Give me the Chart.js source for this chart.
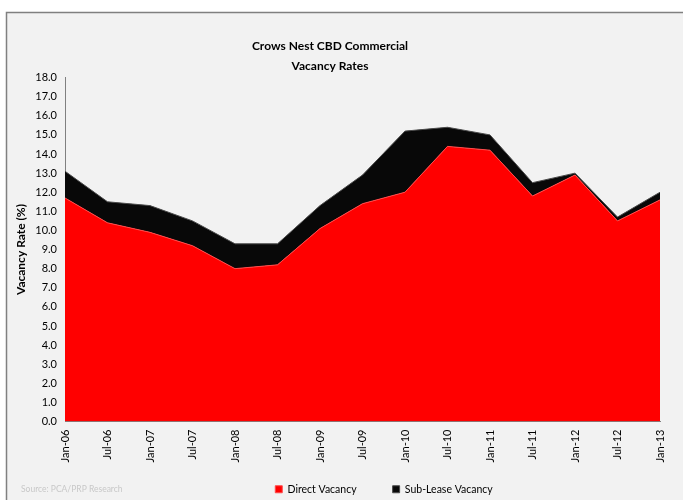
<!DOCTYPE html>
<html>
<head>
<meta charset="utf-8">
<script src="https://cdn.jsdelivr.net/npm/chart.js@4"></script>
<style>
  html, body { margin: 0; padding: 0; background: #fff; }
  #wrap { position: relative; width: 683px; height: 500px; }
</style>
</head>
<body>
<div id="wrap"><canvas id="myChart" width="683" height="500"></canvas></div>
<script>
const periods = ['Jan-06','Jul-06','Jan-07','Jul-07','Jan-08','Jul-08','Jan-09','Jul-09',
                 'Jan-10','Jul-10','Jan-11','Jul-11','Jan-12','Jul-12','Jan-13'];
const directVacancy   = [11.7, 10.4, 9.9, 9.2, 8.0, 8.2, 10.1, 11.4, 12.0, 14.4, 14.2, 11.8, 12.9, 10.5, 11.6];
const subLeaseVacancy = [1.4, 1.1, 1.4, 1.3, 1.3, 1.1, 1.2, 1.5, 3.2, 1.0, 0.8, 0.7, 0.1, 0.2, 0.4];
const titleLines = ['Crows Nest CBD Commercial', 'Vacancy Rates'];
const sourceNote = 'Source: PCA/PRP Research';

const FONT = 'Lato, "Open Sans", sans-serif';
const LEGEND_PAD = 36;

// panel background + border + source note, and legend nudged into place
const panel = {
  id: 'panel',
  afterLayout(chart) {
    const lg = chart.legend;
    const dy = 448 - lg.top;
    const dx = 54;
    lg.top += dy; lg.bottom += dy;
    lg.left += dx; lg.right += dx;
  },
  beforeDraw(chart) {
    const c = chart.ctx;
    c.save();
    c.fillStyle = '#fff';
    c.fillRect(0, 0, chart.width, chart.height);
    c.fillStyle = '#f2f2f2';
    c.fillRect(6, 12, chart.width - 6, chart.height - 12);
    c.strokeStyle = '#808080';
    c.lineWidth = 1.5;
    c.beginPath();
    c.moveTo(6.5, chart.height);
    c.lineTo(6.5, 12.5);
    c.lineTo(chart.width, 12.5);
    c.stroke();
    c.restore();
  },
  afterDraw(chart) {
    const c = chart.ctx;
    c.save();
    c.fillStyle = '#c8c8c8';
    c.font = '8.5px ' + FONT;
    c.textBaseline = 'middle';
    c.fillText(sourceNote, 21, 489);
    c.restore();
  }
};

const setup = () => {
  const ctxt = document.getElementById('myChart').getContext('2d');
  new Chart(ctxt, {
    type: 'line',
    data: {
      labels: periods,
      datasets: [{
        label: 'Direct Vacancy',
        data: directVacancy,
        backgroundColor: '#ff0000',
        borderColor: '#ff4a4a',
        borderWidth: 1,
        fill: 'origin',
        pointRadius: 0,
        tension: 0
      }, {
        label: 'Sub-Lease Vacancy',
        data: subLeaseVacancy,
        backgroundColor: '#080808',
        borderColor: '#4a4a4a',
        borderWidth: 1,
        fill: '-1',
        pointRadius: 0,
        tension: 0
      }]
    },
    options: {
      responsive: false,
      animation: false,
      layout: { padding: { left: 0, right: 23, top: 0, bottom: -23 } },
      plugins: {
        title: {
          display: true,
          text: titleLines,
          color: '#000',
          font: { family: FONT, size: 12, weight: 'bold', lineHeight: 1.65 },
          padding: { top: 36, bottom: 2 }
        },
        legend: {
          position: 'bottom',
          labels: {
            color: '#000',
            font: { family: FONT, size: 10.5 },
            boxWidth: 7,
            boxHeight: 7,
            padding: LEGEND_PAD
          }
        },
        tooltip: { enabled: false }
      },
      scales: {
        x: {
          offset: false,
          afterFit: (s) => { s.height = 45; },
          grid: { display: false, drawTicks: true, tickLength: 5, color: '#808080' },
          border: { color: '#808080' },
          ticks: {
            color: '#000',
            font: { family: FONT, size: 11 },
            minRotation: 90,
            maxRotation: 90,
            autoSkip: false,
            padding: 3
          }
        },
        y: {
          stacked: true,
          min: 0,
          max: 18,
          afterFit: (s) => { s.width = 65; },
          grid: { display: false, drawTicks: true, tickLength: 4, color: '#808080' },
          border: { color: '#808080' },
          ticks: {
            stepSize: 1,
            color: '#000',
            font: { family: FONT, size: 11 },
            padding: 4,
            callback: (v) => Number(v).toFixed(1)
          },
          title: {
            display: true,
            text: 'Vacancy Rate (%)',
            color: '#000',
            font: { family: FONT, size: 12, weight: 'bold' },
            padding: { top: 14, bottom: 0 }
          }
        }
      }
    },
    plugins: [panel]
  });
};

window.addEventListener('DOMContentLoaded', setup);
</script>
</body>
</html>
